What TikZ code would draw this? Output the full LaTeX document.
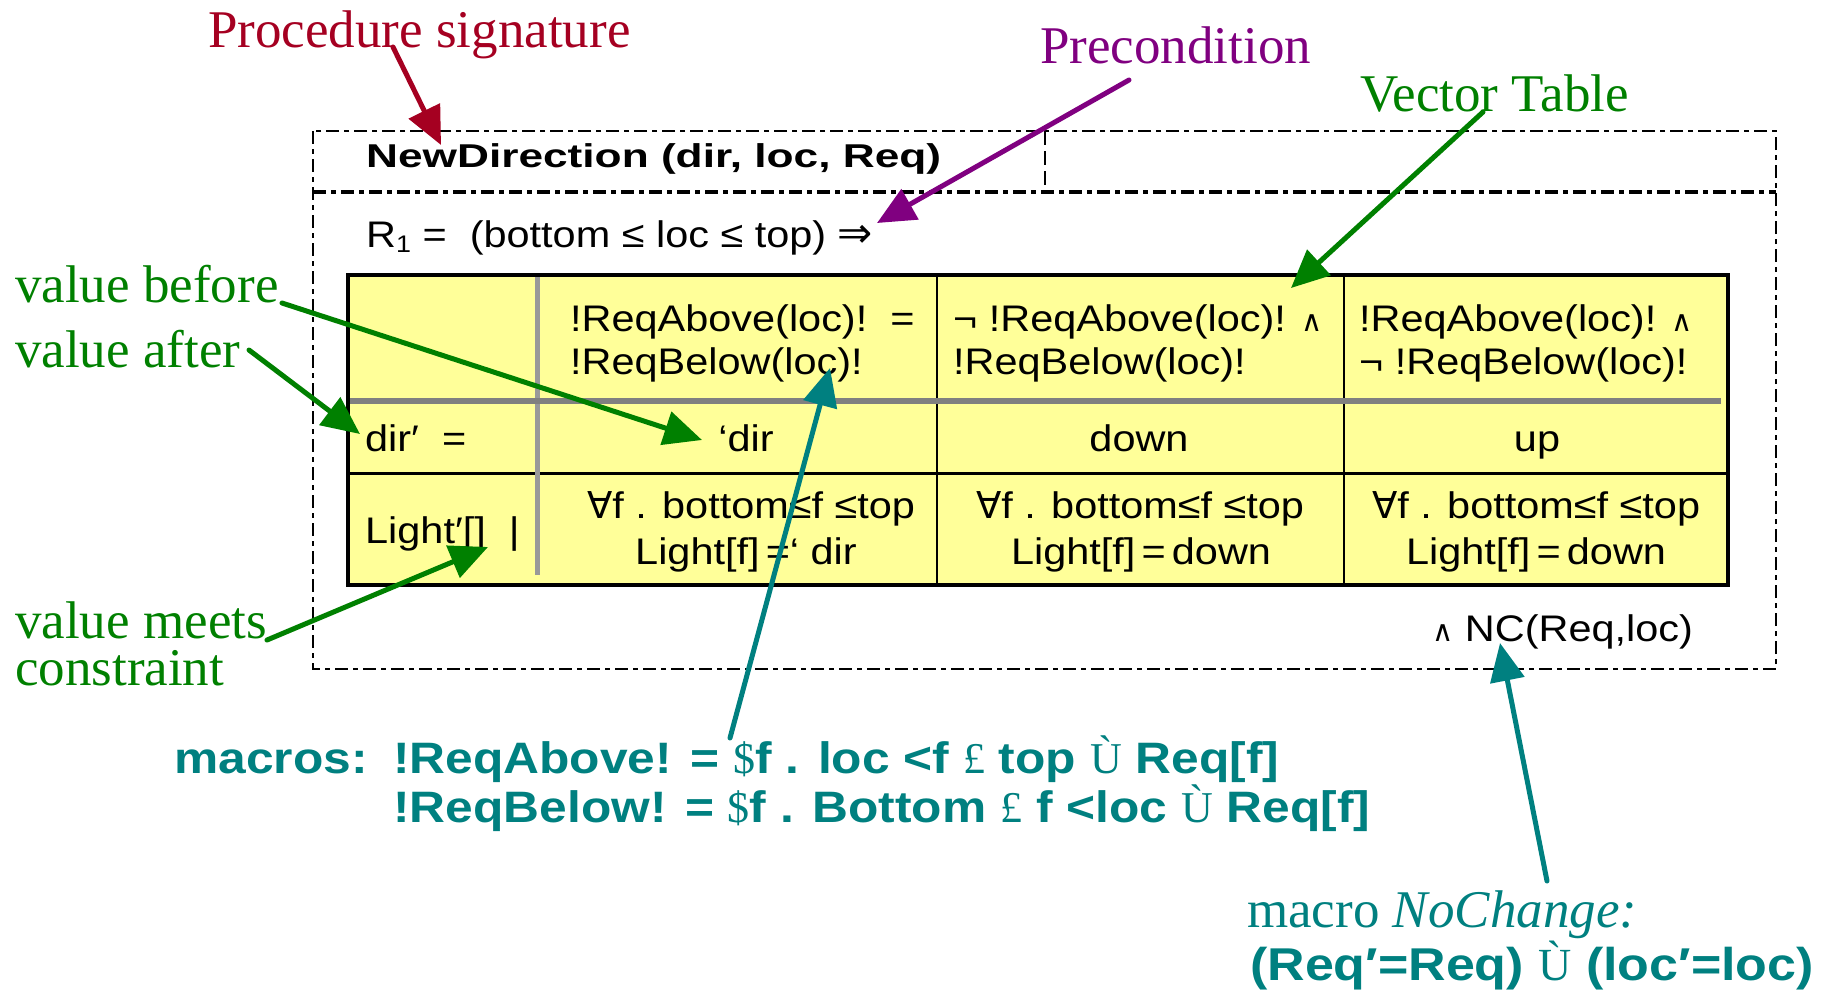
\documentclass[tikz,border=0pt]{standalone}
\usepackage{fontspec}
\usetikzlibrary{arrows.meta}
\setmainfont{Liberation Serif}
\newfontfamily\tabfont[FakeStretch=1.12]{Liberation Sans}
\newfontfamily\sigfont[FakeStretch=1.34]{Liberation Sans}
\newfontfamily\macfont[FakeStretch=1.13]{Liberation Sans}
\newfontfamily\dvfont{DejaVu Sans}

\definecolor{sigred}{RGB}{165,0,33}
\definecolor{prepurple}{RGB}{128,0,128}
\definecolor{notegreen}{RGB}{0,128,0}
\definecolor{macteal}{RGB}{0,128,128}
\definecolor{cellyellow}{RGB}{255,255,153}
\definecolor{rulegray}{RGB}{128,128,128}
\definecolor{colgray}{RGB}{153,153,153}

% glyphs taken from other faces
\newcommand{\dv}[1]{{\dvfont #1}}
\newcommand{\andsym}{{\dvfont\fontsize{29}{30}\selectfont ∧}}
\newcommand{\implsym}{{\dvfont\fontsize{42}{44}\selectfont ⇒}}
\newcommand{\tms}[1]{{\normalfont #1}}

\begin{document}
\begin{tikzpicture}[x=1pt,y=-1pt,
  lbl/.style={font=\fontsize{53}{58}\selectfont, inner sep=0pt, anchor=base west},
  tabtxt/.style={font=\tabfont\fontsize{37}{42}\selectfont, inner sep=0pt},
  mactxt/.style={font=\macfont\bfseries\fontsize{44}{50}\selectfont, text=macteal, inner sep=0pt, anchor=base west},
  callout/.style={line width=5pt, line cap=round, -{Triangle[length=38pt,width=34pt]}},
  frameline/.style={line width=2.6pt, dash pattern=on 13pt off 5pt on 5pt off 5pt},
]
\useasboundingbox (0,0) rectangle (1831,989);

% procedure frame
\draw[frameline] (313,131) rectangle (1776,669);
\draw[frameline, line width=4.2pt] (313,192) -- (1776,192);
\draw[line width=2.6pt, dash pattern=on 14pt off 6pt] (1045,131) -- (1045,192);

\node[font=\sigfont\bfseries\fontsize{33}{38}\selectfont, inner sep=0pt, anchor=base west] (sigline) at (366,167) {NewDirection (dir, loc, Req)};
\node[tabtxt, anchor=base west] (precond) at (366,247) {R\raisebox{-5pt}{\fontsize{24}{26}\selectfont 1} =\ \ (bottom ≤ loc ≤ top) \implsym};

% vector table
\fill[cellyellow] (348,275) rectangle (1728,585);
\draw[line width=2.5pt] (937,275) -- (937,585) (1344,275) -- (1344,585);
\draw[line width=3pt] (348,473) -- (1728,473);
\draw[colgray, line width=5pt] (537,275) -- (537,575);
\draw[rulegray, line width=6pt] (348,401) -- (1721,401);
\draw[line width=4pt] (348,275) rectangle (1728,585);

\node[tabtxt, anchor=base west] (h2a) at (570,331) {!ReqAbove(loc)!\ \ =};
\node[tabtxt, anchor=base west] (h2b) at (570,374) {!ReqBelow(loc)!};
\node[tabtxt, anchor=base west] (h3a) at (953,331) {¬ !ReqAbove(loc)! \andsym};
\node[tabtxt, anchor=base west] (h3b) at (953,374) {!ReqBelow(loc)!};
\node[tabtxt, anchor=base west] (h4a) at (1359,331) {!ReqAbove(loc)! \andsym};
\node[tabtxt, anchor=base west] (h4b) at (1359,374) {¬ !ReqBelow(loc)!};

\node[tabtxt, anchor=base west] (dirrow) at (365,451) {dir′ \ =};
\node[tabtxt, anchor=base] (d2) at (746,451) {‘dir};
\node[tabtxt, anchor=base] (d3) at (1139,451) {down};
\node[tabtxt, anchor=base] (d4) at (1537,451) {up};

\node[tabtxt, anchor=base west] (lightrow) at (365,543) {Light′[] \ |};
\node[tabtxt, anchor=base] (l2a) at (751,518) {\dv{∀}f . bottom≤f ≤top};
\node[tabtxt, anchor=base] (l2b) at (746,564) {Light[f]\,=‘\ dir};
\node[tabtxt, anchor=base] (l3a) at (1140,518) {\dv{∀}f . bottom≤f ≤top};
\node[tabtxt, anchor=base] (l3b) at (1141,564) {Light[f]\,=\,down};
\node[tabtxt, anchor=base] (l4a) at (1536,518) {\dv{∀}f . bottom≤f ≤top};
\node[tabtxt, anchor=base] (l4b) at (1536,564) {Light[f]\,=\,down};

\node[tabtxt, anchor=base west] (ncand) at (1432,641) {\andsym\ NC(Req,loc)};

% annotations
\node[lbl, text=sigred] (sig) at (208,47) {Procedure signature};
\node[lbl, text=prepurple] (pre) at (1040,63) {Precondition};
\node[lbl, text=notegreen] (vt) at (1360,111) {Vector Table};
\node[lbl, text=notegreen] (vbefore) at (15,302) {value before};
\node[lbl, text=notegreen] (vafter) at (15,367) {value after};
\node[lbl, text=notegreen] (vmeets) at (15,638) {value meets};
\node[lbl, text=notegreen] (vcons) at (15,685) {constraint};

\node[mactxt] (macros) at (174,773) {macros:};
\node[mactxt] (reqabove) at (393,773) {!ReqAbove! = \tms{\$}f . loc <f \tms{£} top \tms{Ù} Req[f]};
\node[mactxt] (reqbelow) at (393,822) {!ReqBelow! = \tms{\$}f . Bottom \tms{£} f <loc \tms{Ù} Req[f]};

\node[lbl, text=macteal] (nochg) at (1247,927) {macro \textit{NoChange:}};
\node[mactxt, font=\macfont\bfseries\fontsize{46}{50}\selectfont] (ncdef) at (1250,980) {(Req′=Req) \tms{Ù} (loc′=loc)};

% callout arrows
\coordinate (sigfrom) at (393,47);   \coordinate (sigto) at (441,145);
\coordinate (prefrom) at (1129,80);  \coordinate (preto) at (877,223);
\coordinate (vtfrom) at (1483,112);  \coordinate (vtto) at (1291,288);
\coordinate (befrom) at (282,303);   \coordinate (beto) at (702,440);
\coordinate (affrom) at (249,350);   \coordinate (afto) at (360,434);
\coordinate (mefrom) at (267,640);   \coordinate (meto) at (488,547);
\coordinate (macfrom) at (730,738);  \coordinate (macto) at (830,368);
\coordinate (ncfrom) at (1547,881);  \coordinate (ncto) at (1500,643);

\draw[callout, sigred] (sigfrom) -- (sigto);
\draw[callout, prepurple] (prefrom) -- (preto);
\draw[callout, notegreen] (vtfrom) -- (vtto);
\draw[callout, notegreen] (befrom) -- (beto);
\draw[callout, notegreen] (affrom) -- (afto);
\draw[callout, notegreen] (mefrom) -- (meto);
\draw[callout, macteal] (macfrom) -- (macto);
\draw[callout, macteal] (ncfrom) -- (ncto);
\end{tikzpicture}
\end{document}
